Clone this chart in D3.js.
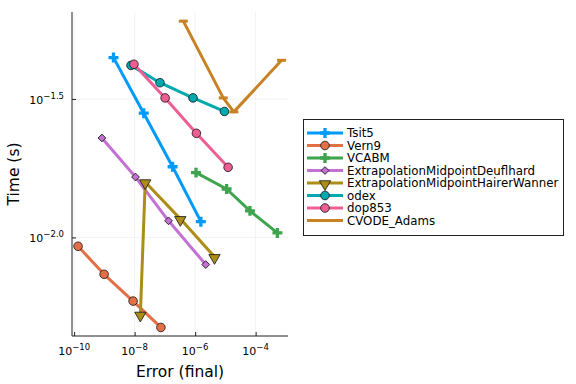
<!DOCTYPE html>
<html>
<head>
<meta charset="utf-8">
<script src="https://cdn.jsdelivr.net/npm/d3@7"></script>
<style>
  body { margin: 0; background: #fff; }
  svg { font-family: "DejaVu Sans", sans-serif; }
</style>
</head>
<body>
<svg id="chart" width="576" height="384"></svg>
<script>
// data (final error vs. time in seconds)
const seriesNames = ["Tsit5", "Vern9", "VCABM", "ExtrapolationMidpointDeuflhard",
  "ExtrapolationMidpointHairerWanner", "odex", "dop853", "CVODE_Adams"];
const seriesColors = ["#009AFA", "#E36F47", "#3EA44E", "#C371D2", "#AC8D18", "#00A9AD", "#ED5E93", "#C68225"];
const seriesMarkers = ["cross", "circle", "cross", "diamond", "triangle", "circle", "circle", "hline"];

const tsit5Err = [2.0e-9, 2.0e-8, 1.8e-7, 1.55e-6];
const tsit5Time = [0.0446, 0.0281, 0.0180, 0.0114];
const vern9Err = [1.35e-10, 9.8e-10, 8.9e-9, 7.4e-8];
const vern9Time = [0.00929, 0.00736, 0.00589, 0.00473];
const vcabmErr = [1.07e-6, 1.1e-5, 6.5e-5, 5.25e-4];
const vcabmTime = [0.01714, 0.01496, 0.01247, 0.01038];
const deufErr = [8.3e-10, 1.07e-8, 1.32e-7, 2.24e-6];
const deufTime = [0.02286, 0.01652, 0.01148, 0.00798];
const hwErr = [1.55e-8, 2.24e-8, 3.24e-7, 4.37e-6];
const hwTime = [0.00527, 0.01585, 0.01167, 0.00851];
const odexErr = [7.6e-9, 6.9e-8, 8.5e-7, 9.3e-6];
const odexTime = [0.0418, 0.0362, 0.0319, 0.0285];
const dopErr = [9.5e-9, 1.02e-7, 1.1e-6, 1.23e-5];
const dopTime = [0.0422, 0.0319, 0.02377, 0.01791];
const cvodeErr = [4.07e-7, 8.5e-6, 1.9e-5, 7.2e-4];
const cvodeTime = [0.0604, 0.0319, 0.0284, 0.0436];

const allErr = [tsit5Err, vern9Err, vcabmErr, deufErr, hwErr, odexErr, dopErr, cvodeErr];
const allTime = [tsit5Time, vern9Time, vcabmTime, deufTime, hwTime, odexTime, dopTime, cvodeTime];

const xTickExps = [-10, -8, -6, -4];
const yTickExps = [-2.0, -1.5];

const svg = d3.select("#chart");
const plot = {left: 72, right: 288, top: 12, bottom: 336};

const x = d3.scaleLog().domain([Math.pow(10, -10.07), Math.pow(10, -2.93)]).range([plot.left, plot.right]);
const y = d3.scaleLog().domain([Math.pow(10, -2.356), Math.pow(10, -1.186)]).range([plot.bottom, plot.top]);

// grid
svg.append("g").selectAll("line").data(xTickExps).enter().append("line")
   .attr("x1", d => x(Math.pow(10, d))).attr("x2", d => x(Math.pow(10, d)))
   .attr("y1", plot.top).attr("y2", plot.bottom)
   .attr("stroke", "#000").attr("stroke-opacity", 0.1).attr("stroke-width", 0.5);
svg.append("g").selectAll("line").data(yTickExps).enter().append("line")
   .attr("x1", plot.left).attr("x2", plot.right)
   .attr("y1", d => y(Math.pow(10, d))).attr("y2", d => y(Math.pow(10, d)))
   .attr("stroke", "#000").attr("stroke-opacity", 0.1).attr("stroke-width", 0.5);

// axes (only left and bottom spines, ticks pointing inward)
const xAxis = svg.append("g").attr("transform", `translate(0,${plot.bottom})`)
   .call(d3.axisBottom(x).tickValues(xTickExps.map(e => Math.pow(10, e))).tickSizeInner(-4).tickSizeOuter(0).tickFormat(""));
const yAxis = svg.append("g").attr("transform", `translate(${plot.left},0)`)
   .call(d3.axisLeft(y).tickValues(yTickExps.map(e => Math.pow(10, e))).tickSizeInner(-4).tickSizeOuter(0).tickFormat(""));
[xAxis, yAxis].forEach(a => {
  a.select(".domain").attr("stroke", "#222").attr("stroke-width", 1);
  a.selectAll(".tick line").attr("stroke", "#222");
});
xAxis.select(".domain").attr("d", `M${plot.left},0H${plot.right}`);
yAxis.select(".domain").attr("d", `M0,${plot.top}V${plot.bottom}`);

// tick labels: 10 with superscript
xTickExps.forEach(e => {
  const t = svg.append("text").attr("x", x(Math.pow(10, e))).attr("y", 355)
     .attr("text-anchor", "middle").attr("font-size", 11).attr("fill", "#000");
  t.append("tspan").text("10");
  t.append("tspan").attr("dy", -5).attr("font-size", 8.5).text("\u2212" + Math.abs(e));
});
yTickExps.forEach(e => {
  const t = svg.append("text").attr("x", 64).attr("y", y(Math.pow(10, e)) + 5)
     .attr("text-anchor", "end").attr("font-size", 11).attr("fill", "#000");
  t.append("tspan").text("10");
  t.append("tspan").attr("dy", -5).attr("font-size", 8.5).text("\u2212" + Math.abs(e).toFixed(1));
});

// axis titles
svg.append("text").attr("x", (plot.left + plot.right) / 2).attr("y", 377)
   .attr("text-anchor", "middle").attr("font-size", 15.5).text("Error (final)");
svg.append("text").attr("transform", `translate(19,${(plot.top + plot.bottom) / 2}) rotate(-90)`)
   .attr("text-anchor", "middle").attr("font-size", 15.5).text("Time (s)");

function drawMarker(g, kind, cx, cy, color) {
  if (kind === "circle") {
    g.append("circle").attr("cx", cx).attr("cy", cy).attr("r", 4.3)
     .attr("fill", color).attr("stroke", "#111").attr("stroke-width", 0.8);
  } else if (kind === "cross") {
    g.append("path").attr("d", d3.symbol(d3.symbolCross, 55)())
     .attr("transform", `translate(${cx},${cy})`).attr("fill", color);
  } else if (kind === "diamond") {
    g.append("path").attr("d", d3.symbol(d3.symbolSquare, 30)())
     .attr("transform", `translate(${cx},${cy}) rotate(45)`)
     .attr("fill", color).attr("stroke", "#111").attr("stroke-width", 0.8);
  } else if (kind === "triangle") {
    g.append("path").attr("d", d3.symbol(d3.symbolTriangle, 55)())
     .attr("transform", `translate(${cx},${cy + 1}) rotate(180)`)
     .attr("fill", color).attr("stroke", "#111").attr("stroke-width", 0.8);
  } else if (kind === "hline") {
    g.append("line").attr("x1", cx - 4.5).attr("x2", cx + 4.5).attr("y1", cy).attr("y2", cy)
     .attr("stroke", color).attr("stroke-width", 3);
  }
}

const line = d3.line().x(d => x(d[0])).y(d => y(d[1]));

seriesNames.forEach((name, i) => {
  const pts = allErr[i].map((e, j) => [e, allTime[i][j]]);
  const g = svg.append("g");
  g.append("path").datum(pts).attr("d", line)
   .attr("fill", "none").attr("stroke", seriesColors[i]).attr("stroke-width", 3)
   .attr("stroke-linejoin", "round");
  pts.forEach(p => drawMarker(g, seriesMarkers[i], x(p[0]), y(p[1]), seriesColors[i]));
});

// legend
const lg = svg.append("g");
lg.append("rect").attr("x", 303.5).attr("y", 119.5).attr("width", 260).attr("height", 116)
  .attr("fill", "#fff").attr("stroke", "#222").attr("stroke-width", 1);
seriesNames.forEach((name, i) => {
  const ly = 133 + i * 12.5;
  lg.append("line").attr("x1", 307).attr("x2", 343).attr("y1", ly).attr("y2", ly)
    .attr("stroke", seriesColors[i]).attr("stroke-width", 3);
  drawMarker(lg, seriesMarkers[i], 325, ly, seriesColors[i]);
  lg.append("text").attr("x", 347).attr("y", ly + 4).attr("font-size", 11.8).text(name);
});
</script>
</body>
</html>
